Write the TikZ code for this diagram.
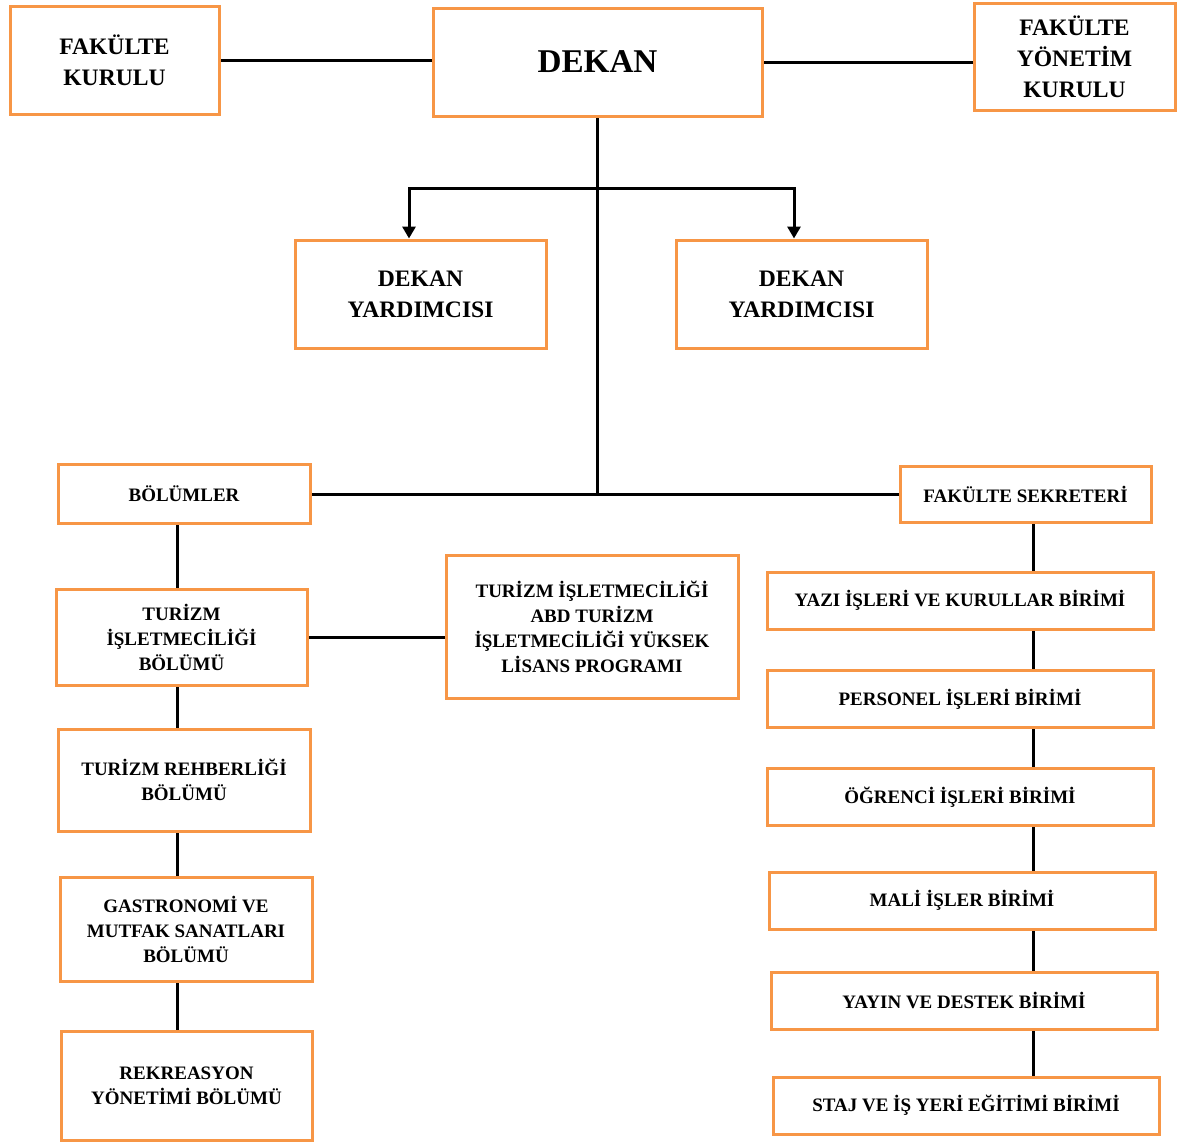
\documentclass[tikz,border=0pt]{standalone}
\usepackage{fontspec}
\setmainfont{Liberation Serif}
\usetikzlibrary{arrows.meta}
\pgfdeclarelayer{bg}
\pgfsetlayers{bg,main}
\definecolor{boxorange}{RGB}{247,150,70}

\begin{document}
\begin{tikzpicture}[x=0.5pt, y=-0.5pt,
    box/.style={draw=boxorange, line width=1.5pt, align=center, inner sep=0pt,
        font=\bfseries\fontsize{9.5}{12.5}\selectfont},
    bigbox/.style={box, font=\bfseries\fontsize{11.8}{15.5}\selectfont},
    unit/.style={box, minimum width=193pt, minimum height=28.5pt},
    conn/.style={line width=1.5pt},
    arr/.style={conn, -{Triangle[length=6pt, width=6.5pt]}}]
    \useasboundingbox (0,0) rectangle (1182,1142);

    \node (fk) [bigbox, minimum width=104.5pt, minimum height=54pt] at (114.5, 60) {FAKÜLTE\\KURULU};
    \node (dekan) [box, minimum width=164.5pt, minimum height=54pt, font=\bfseries\fontsize{16.6}{20}\selectfont] at (597.5, 62) {DEKAN};
    \node (fyk) [bigbox, minimum width=100.5pt, minimum height=53.5pt] at (1074.5, 56.5) {FAKÜLTE\\YÖNETİM\\KURULU};
    \node (dy1) [bigbox, minimum width=125.5pt, minimum height=54pt] at (420.5, 294) {DEKAN\\YARDIMCISI};
    \node (dy2) [bigbox, minimum width=125.5pt, minimum height=54pt] at (801.5, 294) {DEKAN\\YARDIMCISI};

    \node (bol) [box, minimum width=126pt, minimum height=29.5pt] at (184, 494) {BÖLÜMLER};
    \node (tib) [box, minimum width=125.5pt, minimum height=48pt] at (181.5, 637) {TURİZM\\İŞLETMECİLİĞİ\\BÖLÜMÜ};
    \node (tiabd) [box, minimum width=146pt, minimum height=71.5pt] at (592, 626.5) {TURİZM İŞLETMECİLİĞİ\\ABD TURİZM\\İŞLETMECİLİĞİ YÜKSEK\\LİSANS PROGRAMI};
    \node (trb) [box, minimum width=126pt, minimum height=51pt] at (184, 780) {TURİZM REHBERLİĞİ\\BÖLÜMÜ};
    \node (gas) [box, minimum width=126pt, minimum height=52pt] at (186, 929) {GASTRONOMİ VE\\MUTFAK SANATLARI\\BÖLÜMÜ};
    \node (rek) [box, minimum width=125.5pt, minimum height=54.5pt] at (186.5, 1085.5) {REKREASYON\\YÖNETİMİ BÖLÜMÜ};

    \node (fs) [box, minimum width=125.5pt, minimum height=28pt] at (1025.5, 494) {FAKÜLTE SEKRETERİ};
    \node (yazi) [unit] at (960, 600.5) {YAZI İŞLERİ VE KURULLAR BİRİMİ};
    \node (per) [unit] at (960, 699) {PERSONEL İŞLERİ BİRİMİ};
    \node (ogr) [unit] at (960, 797) {ÖĞRENCİ İŞLERİ BİRİMİ};
    \node (mali) [unit] at (962, 900.5) {MALİ İŞLER BİRİMİ};
    \node (yayin) [unit] at (964, 1000.5) {YAYIN VE DESTEK BİRİMİ};
    \node (staj) [unit] at (966, 1105.5) {STAJ VE İŞ YERİ EĞİTİMİ BİRİMİ};

    \coordinate (split) at (597.5, 188);

    \begin{pgfonlayer}{bg}
        \draw[conn] (fk.east) -- (fk.east -| dekan.west);
        \draw[conn] (dekan.east) -- (dekan.east -| fyk.west);
        \draw[conn] (dekan.south) -- (dekan.south |- fs.west);
        \draw[conn] (bol.east) -- (bol.east -| fs.west);
        \draw[arr] (split) -| ([xshift=-5.75pt]dy1.north);
        \draw[arr] (split) -| ([xshift=-3.75pt]dy2.north);
        \draw[conn] (tib.east) -- (tib.east -| tiabd.west);
        \foreach \a/\b in {bol/tib, tib/trb, trb/gas, gas/rek}
            \draw[conn] ([xshift=-2pt]\a.south -| tib.south) -- ([xshift=-2pt]\b.north -| tib.south);
        \foreach \a/\b in {fs/yazi, yazi/per, per/ogr, ogr/mali, mali/yayin, yayin/staj}
            \draw[conn] ([xshift=4pt]\a.south -| fs.south) -- ([xshift=4pt]\b.north -| fs.south);
    \end{pgfonlayer}
\end{tikzpicture}
\end{document}
